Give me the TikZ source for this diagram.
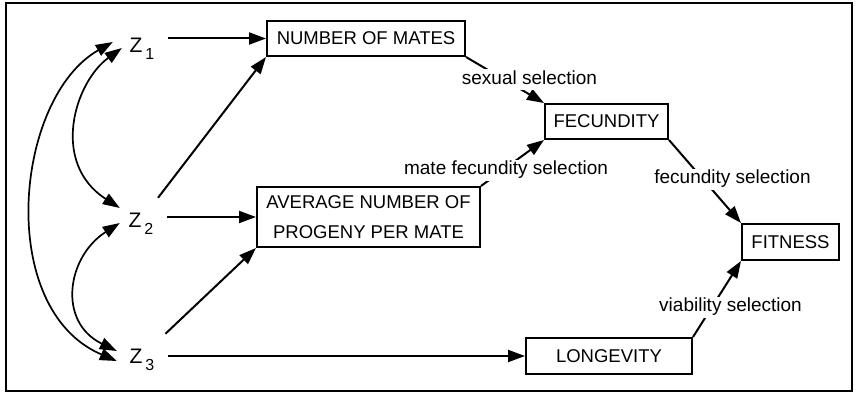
\documentclass[tikz,border=0pt]{standalone}
\usepackage{fontspec}
\setmainfont{Liberation Sans}
\usetikzlibrary{arrows.meta,calc}
\newcommand\zsubfont{\fontsize{16}{16}\selectfont}
\begin{document}
\begin{tikzpicture}[x=1pt,y=-1pt,
  box/.style={draw,line width=2pt,inner sep=0pt,font=\fontsize{18.5}{30}\selectfont,align=center},
  zlab/.style={inner sep=0pt,minimum width=52pt,minimum height=44pt,text height=15pt,text depth=0pt,font=\fontsize{21}{22}\selectfont},
  lab/.style={fill=white,inner sep=2pt,text height=13pt,text depth=4pt,font=\fontsize{19}{20}\selectfont},
  arr/.style={line width=2pt,-{Triangle[length=17pt,width=12pt]}},
  dbl/.style={line width=1.7pt,{Triangle[length=17pt,width=12pt]}-{Triangle[length=17pt,width=12pt]}}]
\useasboundingbox (0,0) rectangle (857,396);
\draw[line width=1.6pt] (6,3) rectangle (852,391);

\node[zlab] (z1) at (142,45) {Z\kern3pt\raisebox{-7pt}{\zsubfont 1}};
\node[zlab] (z2) at (141,220) {Z\kern3pt\raisebox{-7pt}{\zsubfont 2}};
\node[zlab] (z3) at (142,356) {Z\kern3pt\raisebox{-7pt}{\zsubfont 3}};

\node[box,minimum width=198pt,minimum height=35pt] (nm) at (366,38.5) {NUMBER OF MATES};
\node[box,minimum width=223pt,minimum height=60pt] (av) at (368.5,217) {AVERAGE NUMBER OF\\PROGENY PER MATE};
\node[box,minimum width=123pt,minimum height=35pt] (fec) at (606.5,121.5) {FECUNDITY};
\node[box,minimum width=97pt,minimum height=36pt] (fit) at (790.5,242) {FITNESS};
\node[box,minimum width=166pt,minimum height=36pt] (lon) at (609,356) {LONGEVITY};

\draw[arr] (z1.east |- nm.west) -- (nm.west);
\draw[arr] (z2) -- (nm.south west);
\draw[arr] (z2.east |- av.west) -- (av.west);
\draw[arr] (z3) -- (av.south west);
\draw[arr] (z3.east |- lon.west) -- (lon.west);

\draw[arr] (nm.south east) -- (fec.north west);
\draw[arr] (av.north east) -- (fec.south west);
\draw[arr] (fec.south east) -- (fit.north west);
\draw[arr] (lon.north east) -- (fit.south west);

\node[lab] (l1) at (529.5,80) {sexual selection};
\node[lab] (l2) at (506,170) {mate fecundity selection};
\node[lab] (l3) at (732.5,179) {fecundity selection};
\node[lab] (l4) at (730.5,307) {viability selection};

\draw[dbl] ($(z1.west)+(-3,-3)$) .. controls (14.5,97.8) and (-5,309) .. ($(z3.west)+(1,5)$);
\draw[dbl] ($(z1.west)+(6,3)$) .. controls (74.5,82.5) and (50,163) .. ($(z2.west)+(5,-12)$);
\draw[dbl] ($(z2.west)+(5,3)$) .. controls (67,256.6) and (57,321.8) .. ($(z3.west)+(1,-5)$);
\end{tikzpicture}
\end{document}
